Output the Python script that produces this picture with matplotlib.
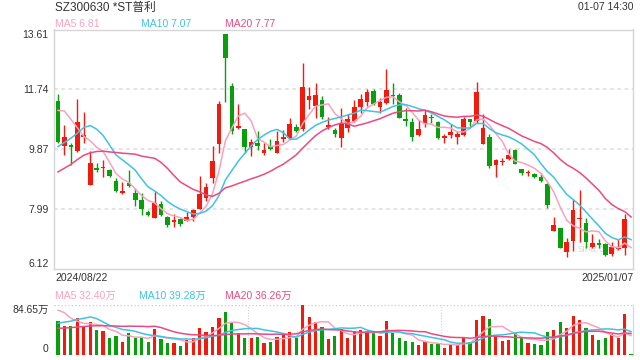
import numpy as np
import pandas as pd
import matplotlib
matplotlib.use('Agg')
import matplotlib.pyplot as plt

plt.rcParams['font.family'] = ['Liberation Sans', 'Noto Sans CJK SC']

# 標題與文字
title = 'SZ300630 *ST普利'
stamp = '01-07 14:30'
start_label = '2024/08/22'
end_label = '2025/01/07'
ma_labels = ['MA5 6.81', 'MA10 7.07', 'MA20 7.77']
vol_ma_labels = ['MA5 32.40万', 'MA10 39.28万', 'MA20 36.26万']
price_ticks = [13.61, 11.74, 9.87, 7.99, 6.12]
vol_max = 84.65

# K線數據 (2024/08/22 - 2025/01/07)
open_ = [11.38, 9.97, 10.00, 9.80, 10.26, 8.74, 9.27, 9.28, 9.23, 8.88,
         8.51, 8.82, 8.49, 8.29, 7.89, 7.71, 8.14, 7.75, 7.59, 7.67,
         7.62, 7.76, 8.01, 8.33, 8.98, 10.04, 13.48, 11.85, 10.54, 10.51,
         9.94, 10.05, 9.74, 9.98, 9.76, 10.18, 10.22, 10.57, 10.49, 11.39,
         11.23, 11.39, 10.57, 10.48, 10.23, 10.52, 10.75, 11.20, 11.35, 11.70,
         11.20, 11.32, 11.57, 11.57, 10.82, 10.73, 10.30, 10.65, 10.87, 10.73,
         10.23, 10.30, 10.26, 10.32, 10.82, 10.75, 10.04, 10.26, 9.36, 9.46,
         9.55, 9.85, 9.26, 9.12, 9.10, 9.01, 8.78, 7.32, 7.39, 6.64,
         6.99, 7.68, 7.57, 6.81, 6.92, 6.89, 6.58, 6.75, 6.79, 6.14]
high = [11.60, 10.63, 10.07, 11.45, 11.03, 9.81, 9.45, 9.52, 9.25, 8.96,
        8.85, 9.22, 8.64, 8.50, 7.98, 8.56, 8.25, 7.77, 7.83, 7.70,
        7.91, 8.01, 9.03, 8.82, 9.98, 11.38, 13.48, 11.95, 11.29, 10.51,
        10.18, 10.44, 10.05, 10.19, 10.44, 10.47, 10.83, 10.65, 12.57, 11.82,
        11.95, 11.53, 10.88, 10.54, 11.17, 10.96, 11.40, 11.58, 11.74, 11.76,
        11.48, 12.39, 11.94, 11.62, 11.17, 10.84, 10.77, 11.09, 10.98, 10.75,
        10.35, 10.67, 10.44, 10.88, 10.82, 11.98, 10.98, 10.35, 9.55, 9.60,
        9.86, 9.87, 9.26, 9.21, 9.11, 9.12, 8.80, 7.75, 7.39, 7.10,
        8.30, 8.58, 7.70, 7.23, 7.07, 6.93, 6.95, 7.06, 7.85, 6.14]
low = [10.07, 9.68, 9.38, 9.79, 10.07, 8.74, 9.14, 9.01, 9.00, 8.53,
       8.46, 8.69, 8.10, 7.81, 7.77, 7.71, 7.79, 7.42, 7.42, 7.48,
       7.61, 7.63, 7.99, 8.25, 8.82, 9.76, 11.35, 10.35, 10.51, 9.76,
       9.64, 9.83, 9.68, 9.83, 9.74, 10.09, 10.20, 10.39, 10.44, 11.12,
       10.85, 10.80, 10.49, 10.25, 9.92, 10.39, 10.72, 11.01, 11.21, 11.25,
       11.01, 11.29, 11.29, 10.83, 10.60, 10.12, 10.27, 10.57, 10.70, 10.20,
       10.07, 10.23, 10.02, 10.28, 10.56, 10.70, 10.04, 9.27, 9.00, 9.36,
       9.54, 9.39, 9.07, 9.03, 8.98, 8.85, 8.04, 7.32, 6.77, 6.50,
       6.69, 6.95, 6.79, 6.79, 6.79, 6.53, 6.53, 6.71, 6.55, 6.14]
close = [10.10, 10.26, 9.95, 10.73, 10.30, 9.42, 9.23, 9.32, 9.02, 8.55,
         8.55, 8.71, 8.27, 7.99, 7.80, 8.17, 7.80, 7.49, 7.64, 7.52,
         7.76, 7.97, 8.45, 8.70, 9.51, 11.29, 12.71, 10.44, 10.58, 9.94,
         10.09, 9.97, 9.85, 9.87, 10.13, 10.26, 10.67, 10.45, 11.82, 11.54,
         11.57, 10.88, 10.61, 10.33, 10.68, 10.82, 11.20, 11.45, 11.64, 11.28,
         11.35, 11.73, 11.53, 10.85, 10.75, 10.24, 10.51, 10.94, 10.83, 10.21,
         10.27, 10.39, 10.35, 10.82, 10.73, 11.64, 10.54, 9.33, 9.54, 9.51,
         9.67, 9.40, 9.13, 9.15, 8.99, 8.87, 8.12, 7.51, 6.77, 6.98,
         7.98, 7.73, 6.95, 6.92, 6.86, 6.55, 6.81, 6.77, 7.67, 6.14]
# 成交量 (萬股)
volume = [57.3, 48.2, 48.2, 62.4, 47.1, 55.0, 41.5, 39.8, 28.5, 31.9,
          21.2, 36.4, 28.5, 28.5, 21.2, 43.7, 26.2, 20.0, 20.0, 15.0,
          24.5, 28.5, 44.9, 38.1, 47.1, 62.4, 71.9, 53.9, 36.4, 28.5,
          28.5, 29.6, 20.0, 21.2, 29.6, 34.1, 38.1, 27.4, 84.65, 63.5,
          55.0, 46.6, 26.2, 31.3, 43.7, 27.9, 39.2, 41.5, 39.2, 37.5,
          31.3, 56.7, 36.4, 27.9, 22.3, 21.2, 16.1, 22.3, 17.8, 17.8,
          11.0, 17.2, 16.6, 29.1, 20.6, 58.4, 65.2, 60.1, 31.9, 22.9,
          24.5, 37.0, 29.1, 19.5, 17.8, 16.6, 38.1, 41.5, 55.0, 45.4,
          65.2, 58.4, 44.9, 33.0, 24.5, 27.9, 34.1, 27.9, 68.6, 0.8]
# 區間之前的收盤價與成交量 (由均線起點估計)
prior_close = [7.9, 7.6, 7.7, 7.6, 7.9, 8.4, 9.1, 9.5, 8.9, 9.0,
               9.0, 8.6, 9.2, 8.5, 8.8, 10.36, 11.25, 12.03, 11.66]
prior_volume = [38, 35, 40, 33, 36, 34, 37, 35, 36, 34,
                28, 33, 30, 32, 30, 70, 95, 88, 65]

red = '#f2190d'
green = '#07a00c'
ma_colors = ['#f7a3bf', '#3ec3e2', '#ea4a82']
text_color = '#333333'
border = '#d6d6d6'
grid_color = '#e2e2e2'

n = len(close)
x = np.arange(n)
colors = [red if c > o else green for o, c in zip(open_, close)]

all_close = pd.Series(prior_close + close)
all_vol = pd.Series(prior_volume + volume)
ma_price = [all_close.rolling(w).mean().values[-n:] for w in (5, 10, 20)]
ma_vol = [all_vol.rolling(w).mean().values[-n:] for w in (5, 10, 20)]

W, H = 640, 360
fig = plt.figure(figsize=(6.4, 3.6), dpi=100)
ax = fig.add_axes([54 / W, 1 - 269 / H, 579 / W, 239.5 / H])
axv = fig.add_axes([54 / W, 1 - 354.5 / H, 579 / W, 50 / H])

# K線
body_bottom = np.minimum(open_, close)
body_height = np.maximum(np.abs(np.array(close) - np.array(open_)), 0.025)
ax.vlines(x, low, high, colors=colors, linewidth=1, zorder=2)
ax.bar(x, body_height, bottom=body_bottom, width=0.72, color=colors, linewidth=0, zorder=3)
for m, c in zip(ma_price, ma_colors):
    ax.plot(x, m, color=c, linewidth=1.1, zorder=4)

ax.set_xlim(-0.62, 89.3)
ax.set_ylim(price_ticks[-1], price_ticks[0])
ax.set_xticks([])
ax.set_yticks(price_ticks)
ax.set_yticklabels([f'{t:.2f}' for t in price_ticks])
ax.tick_params(axis='y', length=0, pad=4, labelsize=7.5, labelcolor=text_color)
labels = ax.get_yticklabels()
labels[0].set_va('top')
labels[-1].set_va('bottom')
for t in price_ticks[1:-1]:
    ax.axhline(t, color=grid_color, linewidth=1.3, linestyle=(0, (2, 2)), zorder=1)
for s in ax.spines.values():
    s.set_color(border)
    s.set_linewidth(1)
ax.text(0.94, 0.085, 'sina.com', transform=ax.transAxes, ha='center', va='center',
        fontsize=7.5, color='#dadada', zorder=1)

# 成交量
axv.bar(x, volume, width=0.5, color=colors, linewidth=0, zorder=3)
for m, c in zip(ma_vol, ma_colors):
    axv.plot(x, m, color=c, linewidth=1.1, zorder=4)
axv.set_xlim(-0.62, 89.3)
axv.set_ylim(0, vol_max)
axv.set_xticks([])
axv.set_yticks([0, vol_max])
axv.set_yticklabels(['0', f'{vol_max:.2f}万'])
axv.tick_params(axis='y', length=0, pad=4, labelsize=7.5, labelcolor=text_color)
vl = axv.get_yticklabels()
vl[0].set_va('bottom')
vl[1].set_va('top')
for s in ['left', 'top', 'bottom']:
    axv.spines[s].set_visible(False)
axv.spines['right'].set_color(border)
axv.axhline(vol_max, color='#cfcfcf', linewidth=1, linestyle=(0, (1, 1.5)), zorder=1)
axv.axhline(0, color='#cfcfcf', linewidth=1, linestyle=(0, (1, 1.5)), zorder=1)
for xv in (29.5, 59.5):
    axv.axvline(xv, color='#cfcfcf', linewidth=0.8, linestyle=(0, (1, 1.5)), zorder=1)

# 文字
def px(xp, yp):
    return xp / W, 1 - yp / H

fig.text(*px(55, 7.5), title, fontsize=8.5, color=text_color, va='center', ha='left')
fig.text(*px(634, 7.5), stamp, fontsize=7.5, color=text_color, va='center', ha='right')
for lab, c, xp in zip(ma_labels, ma_colors, (55, 141, 225)):
    fig.text(*px(xp, 24), lab, fontsize=7.5, color=c, va='center', ha='left')
fig.text(*px(55, 278), start_label, fontsize=7.5, color=text_color, va='center', ha='left')
fig.text(*px(634, 278), end_label, fontsize=7.5, color=text_color, va='center', ha='right')
for lab, c, xp in zip(vol_ma_labels, ma_colors, (55, 139, 225)):
    fig.text(*px(xp, 296), lab, fontsize=7.5, color=c, va='center', ha='left')

fig.savefig('out.png', dpi=100)
